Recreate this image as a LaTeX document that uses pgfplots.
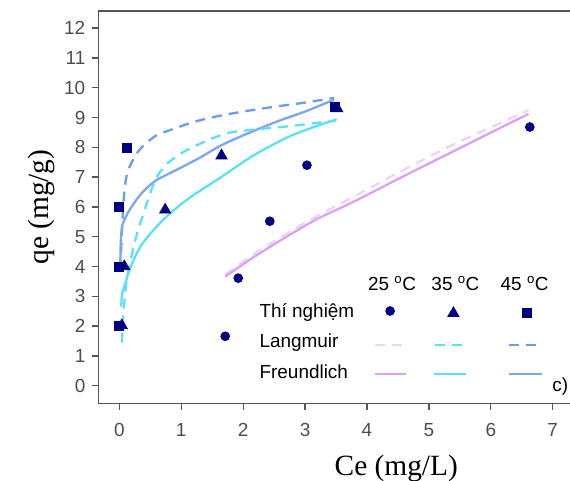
\documentclass[border=0pt]{standalone}
\usepackage{fontspec}
\setmainfont{Liberation Sans}
\newfontfamily\serifit{Liberation Serif}
\usepackage{pgfplots}
\pgfplotsset{compat=1.18}
\definecolor{axisgray}{HTML}{555555}
\definecolor{tickgray}{HTML}{4D4D4D}
\definecolor{mk}{HTML}{000080}
\definecolor{cA}{HTML}{6A9BF0}
\definecolor{cAs}{HTML}{7AA6F2}
\definecolor{cB}{HTML}{5CE0F8}
\definecolor{cC}{HTML}{D9A2F3}
\definecolor{cCd}{HTML}{EFD2FA}
\begin{document}
\begin{tikzpicture}
\begin{axis}[
  scale only axis, width=473bp, height=392.3bp,
  xmin=-0.34, xmax=7.30, ymin=-0.59, ymax=12.574,
  xtick={0,1,2,3,4,5,6,7}, ytick={0,1,2,3,4,5,6,7,8,9,10,11,12},
  axis line style={color=axisgray, line width=1.4bp},
  tick style={color=axisgray, line width=1.3bp},
  major tick length=6.5bp, tick align=outside,
  xtick pos=lower, ytick pos=left,
  tick label style={text=tickgray, font=\fontsize{19}{22}\selectfont},
  xticklabel style={yshift=-10bp},
  yticklabel style={xshift=-3bp},
  /pgf/number format/assume math mode=true,
  xlabel={\serifit Ce (mg/L)}, ylabel={\serifit qe (mg/g)},
  label style={font=\fontsize{29.5}{34}\selectfont},
  xlabel style={at={(axis description cs:0.630,-0.1828)}, anchor=base},
  ylabel style={at={(axis description cs:-0.1063,0.5)}, anchor=base},
  fit/.style={line width=2.3bp, smooth, tension=0.45},
  seg/.style={line width=2.3bp},
  dsh/.style={dash pattern=on 10bp off 7bp},
  mc/.style={only marks, mk, mark=*, mark size=4.4bp, mark options={line width=0.8bp}},
  mt/.style={only marks, mk, mark=triangle*, mark size=6.4bp, mark options={line width=0.8bp}},
  ms/.style={only marks, mk, mark=square*, mark size=4.5bp, mark options={line width=0.8bp}},
]
% Langmuir 45
\addplot[cA, fit, dsh] coordinates {(0.015,3.9) (0.03,4.6) (0.045,5.3) (0.065,6.1) (0.09,6.7) (0.13,7.15) (0.2,7.5) (0.3,7.85) (0.42,8.12) (0.6,8.4) (0.85,8.6) (1.2,8.85) (1.6,9.05) (2.0,9.2) (2.5,9.36) (3.0,9.5) (3.47,9.66)};
% Freundlich 45
\addplot[cAs, fit] coordinates {(0.015,4.05) (0.02,4.6) (0.03,5.1) (0.05,5.4) (0.09,5.6) (0.15,5.85) (0.28,6.25) (0.4,6.55) (0.6,6.9) (0.93,7.25) (1.3,7.65) (1.63,8.05) (2.0,8.4) (2.54,8.86) (3.0,9.2) (3.47,9.6)};
% Langmuir 35
\addplot[cB, fit, dsh] coordinates {(0.04,1.45) (0.065,2.43) (0.09,3.0) (0.12,3.55) (0.17,4.1) (0.23,4.66) (0.3,5.2) (0.39,5.78) (0.48,6.35) (0.57,6.85) (0.66,7.18) (0.8,7.5) (1.0,7.8) (1.2,8.02) (1.5,8.3) (1.8,8.5) (2.2,8.6) (2.8,8.72) (3.5,8.9)};
% Freundlich 35
\addplot[cB, fit] coordinates {(0.03,2.65) (0.04,3.0) (0.06,3.2) (0.09,3.4) (0.15,3.8) (0.23,4.22) (0.35,4.7) (0.5,5.1) (0.7,5.55) (0.93,5.98) (1.2,6.4) (1.63,6.98) (2.16,7.72) (2.7,8.32) (3.1,8.65) (3.51,8.94)};
% Langmuir 25
\addplot[cCd, fit, dsh] coordinates {(1.71,3.72) (2.16,4.4) (2.7,5.1) (3.2,5.7) (3.78,6.34) (4.59,7.24) (5.4,8.1) (6.2,8.86) (6.61,9.25)};
% Freundlich 25
\addplot[cC, fit] coordinates {(1.71,3.66) (2.16,4.3) (2.7,5.0) (3.2,5.6) (3.78,6.17) (4.59,7.03) (5.4,7.87) (6.2,8.7) (6.61,9.12)};
% Experimental points
\addplot[mc] coordinates {(1.71,1.66) (1.92,3.61) (2.43,5.52) (3.03,7.4) (6.63,8.68)};
\addplot[mt] coordinates {(0.04,2.02) (0.08,4.0) (0.74,5.9) (1.65,7.72) (3.52,9.3)};
\addplot[ms] coordinates {(0.0,2.0) (0.0,4.0) (0.0,6.0) (0.12,7.98) (3.48,9.36)};
% legend samples
\addplot[mc] coordinates {(4.373,2.507)};
\addplot[mt] coordinates {(5.396,2.43)};
\addplot[ms] coordinates {(6.581,2.43)};
\addplot[cCd, seg, dsh] coordinates {(4.13,1.356) (4.62,1.356)};
\addplot[cB, seg, dsh] coordinates {(5.10,1.356) (5.58,1.356)};
\addplot[cA, seg, dsh] coordinates {(6.29,1.356) (6.78,1.356)};
\addplot[cC, seg] coordinates {(4.13,0.393) (4.63,0.393)};
\addplot[cB, seg] coordinates {(5.09,0.393) (5.60,0.393)};
\addplot[cAs, seg] coordinates {(6.29,0.393) (6.83,0.393)};
\begin{scope}[every node/.style={font=\fontsize{19}{22}\selectfont, inner sep=0pt}]
\node[anchor=base west] at (axis cs:2.262,2.295) {Thí nghiệm};
\node[anchor=base west] at (axis cs:2.262,1.289) {Langmuir};
\node[anchor=base west] at (axis cs:2.262,0.248) {Freundlich};
\node[anchor=base] at (axis cs:4.405,3.21) {25 \textsuperscript{o}C};
\node[anchor=base] at (axis cs:5.428,3.21) {35 \textsuperscript{o}C};
\node[anchor=base] at (axis cs:6.546,3.21) {45 \textsuperscript{o}C};
\node[anchor=base east] at (axis cs:7.254,-0.178) {c)};
\end{scope}
\end{axis}
\pgfresetboundingbox
\path[use as bounding box] (-98.3bp,-77.7bp) rectangle (471.7bp,403.3bp);
\end{tikzpicture}
\end{document}
